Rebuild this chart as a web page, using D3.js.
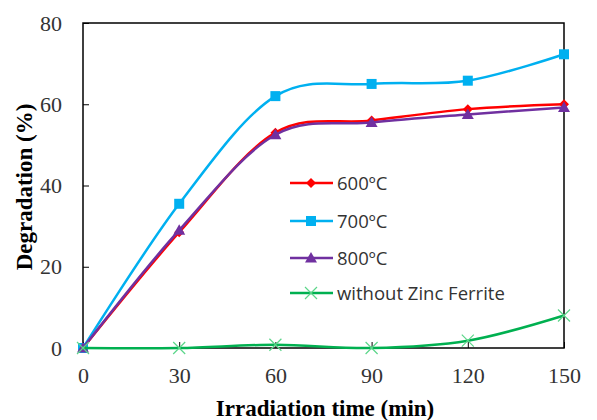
<!DOCTYPE html>
<html>
<head>
<meta charset="utf-8">
<script src="https://cdn.jsdelivr.net/npm/d3@7"></script>
<style>
  body { margin: 0; background: #fff; }
</style>
</head>
<body>
<div id="chart"></div>
<script>
var times = [0, 30, 60, 90, 120, 150];
var deg600 = [0, 28.5, 53, 56, 58.8, 60];
var deg700 = [0, 35.5, 62, 65, 65.8, 72.3];
var deg800 = [0, 29, 52.5, 55.5, 57.5, 59.2];
var degNone = [0, 0, 0.8, 0, 1.8, 8];
var xTicks = [0, 30, 60, 90, 120, 150];
var yTicks = [0, 20, 40, 60, 80];
var seriesNames = ["600\u00BAC", "700\u00BAC", "800\u00BAC", "without Zinc Ferrite"];

var w = 597, h = 420;
var plotLeft = 83, plotRight = 564, plotTop = 23, plotBottom = 348;

var svg = d3.select("#chart").append("svg")
    .attr("width", w)
    .attr("height", h);

var x = d3.scaleLinear().domain([0, 150]).range([plotLeft, plotRight]);
var y = d3.scaleLinear().domain([0, 80]).range([plotBottom, plotTop]);

var series = [
    { name: seriesNames[0], values: deg600, color: "#ff0000", marker: "diamond" },
    { name: seriesNames[1], values: deg700, color: "#00b0f0", marker: "square" },
    { name: seriesNames[2], values: deg800, color: "#7030a0", marker: "triangle" },
    { name: seriesNames[3], values: degNone, color: "#00b050", marker: "cross" }
];

// frame
svg.append("rect")
    .attr("x", plotLeft).attr("y", plotTop)
    .attr("width", plotRight - plotLeft).attr("height", plotBottom - plotTop)
    .attr("fill", "none").attr("stroke", "#000").attr("stroke-width", 1.5);

// axes with inward ticks
svg.append("g")
    .attr("transform", "translate(0," + plotBottom + ")")
    .call(d3.axisBottom(x).tickValues(xTicks).tickSize(-6).tickPadding(19))
    .call(function(g) {
        g.select(".domain").remove();
        g.selectAll("line").attr("stroke", "#000");
        g.selectAll("text").attr("font-family", "Liberation Serif, serif")
            .attr("font-size", 22).attr("fill", "#333");
    });

svg.append("g")
    .attr("transform", "translate(" + plotLeft + ",0)")
    .call(d3.axisLeft(y).tickValues(yTicks).tickSize(-6).tickPadding(21))
    .call(function(g) {
        g.select(".domain").remove();
        g.selectAll("line").attr("stroke", "#000");
        g.selectAll("text").attr("font-family", "Liberation Serif, serif")
            .attr("font-size", 22).attr("fill", "#333");
    });

// axis titles
svg.append("text")
    .attr("x", 325)
    .attr("y", 416)
    .attr("text-anchor", "middle")
    .attr("font-family", "Liberation Serif, serif")
    .attr("font-weight", "bold")
    .attr("font-size", 23)
    .text("Irradiation time (min)");

svg.append("text")
    .attr("transform", "translate(32," + 187 + ") rotate(-90)")
    .attr("text-anchor", "middle")
    .attr("font-family", "Liberation Serif, serif")
    .attr("font-weight", "bold")
    .attr("font-size", 23)
    .text("Degradation (%)");

var line = d3.line()
    .x(function(d, i) { return x(times[i]); })
    .y(function(d) { return y(d); })
    .curve(d3.curveCatmullRom.alpha(0));

function drawMarker(g, type, color, cx, cy) {
    if (type === "diamond") {
        g.append("path")
            .attr("d", "M" + cx + "," + (cy - 5) + "L" + (cx + 5) + "," + cy + "L" + cx + "," + (cy + 5) + "L" + (cx - 5) + "," + cy + "Z")
            .attr("fill", color);
    } else if (type === "square") {
        g.append("rect")
            .attr("x", cx - 5).attr("y", cy - 5)
            .attr("width", 10).attr("height", 10)
            .attr("fill", color);
    } else if (type === "triangle") {
        g.append("path")
            .attr("d", "M" + cx + "," + (cy - 6) + "L" + (cx + 6) + "," + (cy + 4.5) + "L" + (cx - 6) + "," + (cy + 4.5) + "Z")
            .attr("fill", color);
    } else {
        g.append("path")
            .attr("d", "M" + (cx - 6) + "," + (cy - 6) + "L" + (cx + 6) + "," + (cy + 6) + "M" + (cx + 6) + "," + (cy - 6) + "L" + (cx - 6) + "," + (cy + 6))
            .attr("stroke", "#5cd68a").attr("stroke-width", 1.2).attr("fill", "none");
    }
}

series.forEach(function(s) {
    var g = svg.append("g");
    g.append("path")
        .attr("d", line(s.values))
        .attr("fill", "none")
        .attr("stroke", s.color)
        .attr("stroke-width", 2.5);
    s.values.forEach(function(v, i) {
        drawMarker(g, s.marker, s.color, x(times[i]), y(v));
    });
});

// legend
var legendY = [183, 221, 258, 293];
series.forEach(function(s, i) {
    var g = svg.append("g");
    g.append("line")
        .attr("x1", 290).attr("x2", 333)
        .attr("y1", legendY[i]).attr("y2", legendY[i])
        .attr("stroke", s.color).attr("stroke-width", 2.5);
    drawMarker(g, s.marker, s.color, 311, legendY[i]);
    g.append("text")
        .attr("x", 337).attr("y", legendY[i] + 6.5)
        .attr("font-family", "Open Sans, sans-serif")
        .attr("font-size", 18.5)
        .attr("fill", "#333")
        .text(s.name);
});
</script>
</body>
</html>
